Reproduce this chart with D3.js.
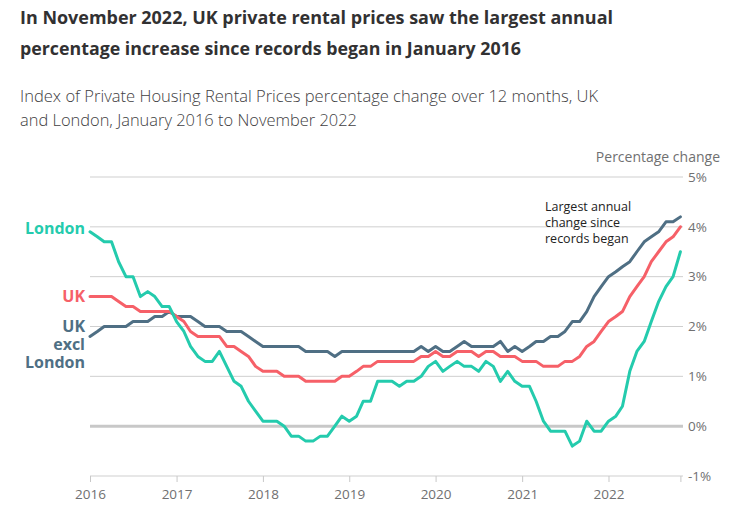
<!DOCTYPE html>
<html>
<head>
<meta charset="utf-8">
<script src="https://cdn.jsdelivr.net/npm/d3@7"></script>
<style>
  html, body { margin: 0; padding: 0; background: #fff; }
  svg { display: block; font-family: "Open Sans", "Noto Sans", sans-serif; }
</style>
</head>
<body>
<svg id="chart" width="745" height="511"></svg>
<script>
// ---- Data (monthly, Jan 2016 – Nov 2022) ----
const startMonth = "2016-01";
const uk = [2.6,2.6,2.6,2.6,2.5,2.4,2.4,2.3,2.3,2.3,2.3,2.3,
            2.2,2.1,1.9,1.8,1.8,1.8,1.8,1.6,1.6,1.5,1.4,1.2,
            1.1,1.1,1.1,1.0,1.0,1.0,0.9,0.9,0.9,0.9,0.9,1.0,
            1.0,1.1,1.2,1.2,1.3,1.3,1.3,1.3,1.3,1.3,1.4,1.4,
            1.5,1.4,1.4,1.5,1.5,1.5,1.4,1.5,1.5,1.4,1.4,1.4,
            1.3,1.3,1.3,1.2,1.2,1.2,1.3,1.3,1.4,1.6,1.7,1.9,
            2.1,2.2,2.3,2.6,2.8,3.0,3.3,3.5,3.7,3.8,4.0];
const london = [3.9,3.8,3.7,3.7,3.3,3.0,3.0,2.6,2.7,2.6,2.4,2.4,
                2.1,1.9,1.6,1.4,1.3,1.3,1.5,1.2,0.9,0.8,0.5,0.3,
                0.1,0.1,0.1,0.0,-0.2,-0.2,-0.3,-0.3,-0.2,-0.2,0.0,0.2,
                0.1,0.2,0.5,0.5,0.9,0.9,0.9,0.8,0.9,0.9,1.0,1.2,
                1.3,1.1,1.2,1.3,1.2,1.2,1.1,1.3,1.2,0.9,1.1,0.9,
                0.8,0.8,0.5,0.1,-0.1,-0.1,-0.1,-0.4,-0.3,0.1,-0.1,-0.1,
                0.1,0.2,0.4,1.1,1.5,1.7,2.1,2.5,2.8,3.0,3.5];
const ukExclLondon = [1.8,1.9,2.0,2.0,2.0,2.0,2.1,2.1,2.1,2.2,2.2,2.3,
                      2.2,2.2,2.2,2.1,2.0,2.0,2.0,1.9,1.9,1.9,1.8,1.7,
                      1.6,1.6,1.6,1.6,1.6,1.6,1.5,1.5,1.5,1.5,1.4,1.5,
                      1.5,1.5,1.5,1.5,1.5,1.5,1.5,1.5,1.5,1.5,1.6,1.5,
                      1.6,1.5,1.5,1.6,1.7,1.6,1.6,1.6,1.6,1.7,1.5,1.6,
                      1.5,1.6,1.7,1.7,1.8,1.8,1.9,2.1,2.1,2.3,2.6,2.8,
                      3.0,3.1,3.2,3.3,3.5,3.7,3.8,3.9,4.1,4.1,4.2];
const yearTicks = ["2016","2017","2018","2019","2020","2021","2022"];
const yTicks = [-1,0,1,2,3,4,5];

const seriesNames = ["UK excl London","UK","London"];
const seriesValues = [ukExclLondon, uk, london];
const seriesColors = ["#4f6f84","#f66068","#24cbad"];

// ---- Setup ----
const svg = d3.select("#chart");
const parseMonth = d3.timeParse("%Y-%m");
const t0 = parseMonth(startMonth);
const dates = uk.map((_, i) => d3.timeMonth.offset(t0, i));

const x = d3.scaleTime()
  .domain([t0, dates[dates.length - 1]])
  .range([90, 680.4]);
const y = d3.scaleLinear().domain([-1, 5]).range([476, 177]);

// ---- Titles ----
const titleLines = [
  "In November 2022, UK private rental prices saw the largest annual",
  "percentage increase since records began in January 2016"
];
const titleW = [593, 501];
titleLines.forEach((t, i) => {
  svg.append("text").attr("x", 20).attr("y", 24 + i * 31)
    .attr("font-size", 18).attr("font-weight", 700).attr("fill", "#323132")
    .attr("textLength", titleW[i]).attr("lengthAdjust", "spacingAndGlyphs")
    .text(t);
});
const subLines = [
  "Index of Private Housing Rental Prices percentage change over 12 months, UK",
  "and London, January 2016 to November 2022"
];
const subW = [578, 337];
subLines.forEach((t, i) => {
  svg.append("text").attr("x", 20).attr("y", 102 + i * 24)
    .attr("font-size", 17).attr("font-weight", 300).attr("fill", "#414042")
    .attr("textLength", subW[i]).attr("lengthAdjust", "spacingAndGlyphs")
    .text(t);
});

svg.append("text").attr("x", 720).attr("y", 162).attr("text-anchor", "end")
  .attr("font-size", 14).attr("fill", "#707071").text("Percentage change");

// ---- Grid & y labels ----
const grid = svg.append("g");
yTicks.forEach(v => {
  grid.append("line")
    .attr("x1", 90).attr("x2", 683)
    .attr("y1", y(v)).attr("y2", y(v))
    .attr("stroke", v === 0 ? "#c8c8c8" : "#cfcfcf")
    .attr("stroke-width", v === 0 ? 3 : 1);
  grid.append("text")
    .attr("x", 688).attr("y", y(v)).attr("dy", "0.35em")
    .attr("font-size", 13.5).attr("fill", "#707071")
    .text(v + "%");
});

// ---- x axis ----
const tickDates = yearTicks.map(yy => parseMonth(yy + "-01")).concat([dates[dates.length - 1]]);
const xAxis = d3.axisBottom(x)
  .tickValues(tickDates)
  .tickSize(6)
  .tickFormat(d => d.getMonth() === 0 ? d3.timeFormat("%Y")(d) : "");
const gx = svg.append("g").attr("transform", `translate(0,${y(-1)})`).call(xAxis);
gx.select(".domain").remove();
gx.selectAll(".tick line").attr("stroke", "#c8c8c8");
gx.selectAll(".tick text").attr("font-size", 13.5).attr("fill", "#707071")
  .attr("font-family", "'Open Sans', sans-serif").attr("dy", "1.0em");

// ---- Lines ----
const line = d3.line().x((d, i) => x(dates[i])).y(d => y(d));
seriesValues.forEach((vals, k) => {
  svg.append("path")
    .datum(vals)
    .attr("fill", "none")
    .attr("stroke", seriesColors[k])
    .attr("stroke-width", 3)
    .attr("stroke-linejoin", "round")
    .attr("stroke-linecap", "round")
    .attr("d", line);
});

// ---- Left labels (multi-line labels as one text with tspans) ----
const labels = [
  {lines: ["London"], color: seriesColors[2], y0: 234},
  {lines: ["UK"], color: seriesColors[1], y0: 302},
  {lines: ["UK", "excl", "London"], color: seriesColors[0], y0: 332}
];
labels.forEach(l => {
  const tx = svg.append("text").attr("x", 85).attr("y", l.y0)
    .attr("text-anchor", "end").attr("font-size", 16).attr("font-weight", 700)
    .attr("fill", l.color);
  l.lines.forEach((t, i) => {
    tx.append("tspan").attr("x", 85).attr("dy", i === 0 ? 0 : 18).text(t);
  });
});

// ---- Annotation ----
const note = ["Largest annual", "change since", "records began"];
const nt = svg.append("text").attr("x", 545).attr("y", 211)
  .attr("font-size", 12.5).attr("fill", "#222");
note.forEach((t, i) => {
  nt.append("tspan").attr("x", 545).attr("dy", i === 0 ? 0 : 16).text(t);
});
</script>
</body>
</html>
